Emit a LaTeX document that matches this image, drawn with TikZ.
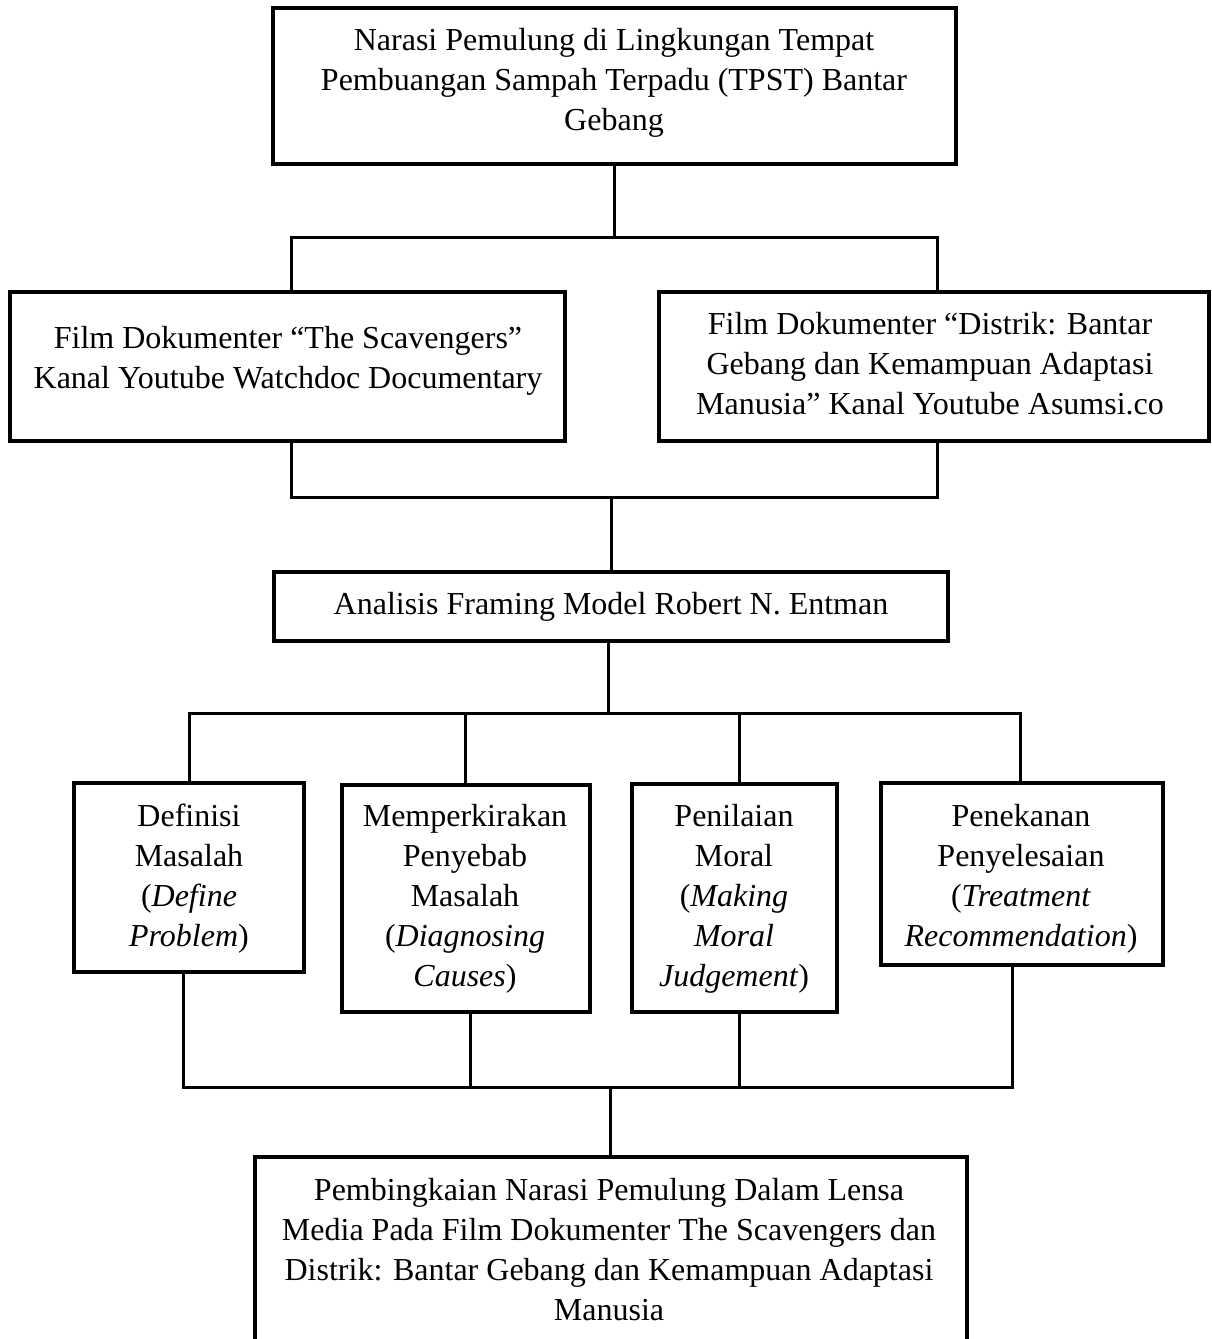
\documentclass[tikz,border=0pt]{standalone}
\usepackage{fontspec}
\setmainfont{Liberation Serif}
\begin{document}
\begin{tikzpicture}[x=0.5pt,y=-0.5pt,
  box/.style={draw=black, line width=1.75pt, rectangle, inner sep=0pt, outer sep=0pt, fill=none},
  txt/.style={align=center, inner sep=0pt, font=\fontsize{16pt}{20pt}\selectfont},
  conn/.style={draw=black, line width=1.5pt, line cap=rect}]
\useasboundingbox (0,0) rectangle (1211,1339);
\clip (0,0) rectangle (1211,1339);
\fill[white] (0,0) rectangle (1211,1339);
% boxes
\node[box, minimum width=341.5pt, minimum height=78pt] (top) at (614.5,86) {};
\node[box, minimum width=277.5pt, minimum height=74.5pt] (filmA) at (287.5,366.5) {};
\node[box, minimum width=275pt, minimum height=74.5pt] (filmB) at (934,366.5) {};
\node[box, minimum width=337pt, minimum height=34.5pt] (ana) at (611,606.5) {};
\node[box, minimum width=115pt, minimum height=94.5pt] (def) at (189,877.5) {};
\node[box, minimum width=124pt, minimum height=113.5pt] (mem) at (466,898.5) {};
\node[box, minimum width=102.5pt, minimum height=114pt] (pen) at (734.5,898) {};
\node[box, minimum width=141pt, minimum height=91pt] (tek) at (1022,874) {};
\node[box, minimum width=356pt, minimum height=101.5pt] (res) at (611,1258.5) {};
% texts
\node[txt] (ttop) at (614,83) {Narasi Pemulung di Lingkungan Tempat\\Pembuangan Sampah Terpadu (TPST) Bantar\\Gebang};
\node[txt] (tfilmA) at (288,361) {Film Dokumenter “The Scavengers”\\Kanal Youtube Watchdoc Documentary};
\node[txt] (tfilmB) at (930,364) {Film Dokumenter “Distrik: Bantar\\Gebang dan Kemampuan Adaptasi\\Manusia” Kanal Youtube Asumsi.co};
\node[txt] (tana) at (611,607) {Analisis Framing Model Robert N. Entman};
\node[txt, anchor=north] (tdef) at (189,804) {Definisi\\Masalah\\(\textit{Define}\\\textit{Problem})};
\node[txt, anchor=north] (tmem) at (465,804) {Memperkirakan\\Penyebab\\Masalah\\(\textit{Diagnosing}\\\textit{Causes})};
\node[txt, anchor=north] (tpen) at (734,804) {Penilaian\\Moral\\(\textit{Making}\\\textit{Moral}\\\textit{Judgement})};
\node[txt, anchor=north] (ttek) at (1021,804) {Penekanan\\Penyelesaian\\(\textit{Treatment}\\\textit{Recommendation})};
\node[txt] (tres) at (609,1250) {Pembingkaian Narasi Pemulung Dalam Lensa\\Media Pada Film Dokumenter The Scavengers dan\\Distrik: Bantar Gebang dan Kemampuan Adaptasi\\Manusia};
% junction coordinates
\coordinate (j1) at (614,237);
\coordinate (j1a) at (291,237);
\coordinate (j1b) at (937,237);
\coordinate (j2a) at (291,497);
\coordinate (j2b) at (937,497);
\coordinate (j2) at (611,497);
\coordinate (j3) at (608,713);
\coordinate (j3a) at (189,713);
\coordinate (j3b) at (465,713);
\coordinate (j3c) at (739,713);
\coordinate (j3d) at (1020,713);
\coordinate (j4a) at (183,1087);
\coordinate (j4b) at (470,1087);
\coordinate (j4c) at (739,1087);
\coordinate (j4d) at (1012,1087);
\coordinate (j4) at (610,1087);
% connectors
\draw[conn] (j1 |- top.south) -- (j1);
\draw[conn] (j1a) -- (j1b);
\draw[conn] (j1a) -- (j1a |- filmA.north);
\draw[conn] (j1b) -- (j1b |- filmB.north);
\draw[conn] (j2a |- filmA.south) -- (j2a) -- (j2b) -- (j2b |- filmB.south);
\draw[conn] (j2) -- (j2 |- ana.north);
\draw[conn] (j3 |- ana.south) -- (j3);
\draw[conn] (j3a) -- (j3d);
\draw[conn] (j3a) -- (j3a |- def.north);
\draw[conn] (j3b) -- (j3b |- mem.north);
\draw[conn] (j3c) -- (j3c |- pen.north);
\draw[conn] (j3d) -- (j3d |- tek.north);
\draw[conn] (j4a |- def.south) -- (j4a) -- (j4d) -- (j4d |- tek.south);
\draw[conn] (j4b |- mem.south) -- (j4b);
\draw[conn] (j4c |- pen.south) -- (j4c);
\draw[conn] (j4) -- (j4 |- res.north);
\end{tikzpicture}
\end{document}
